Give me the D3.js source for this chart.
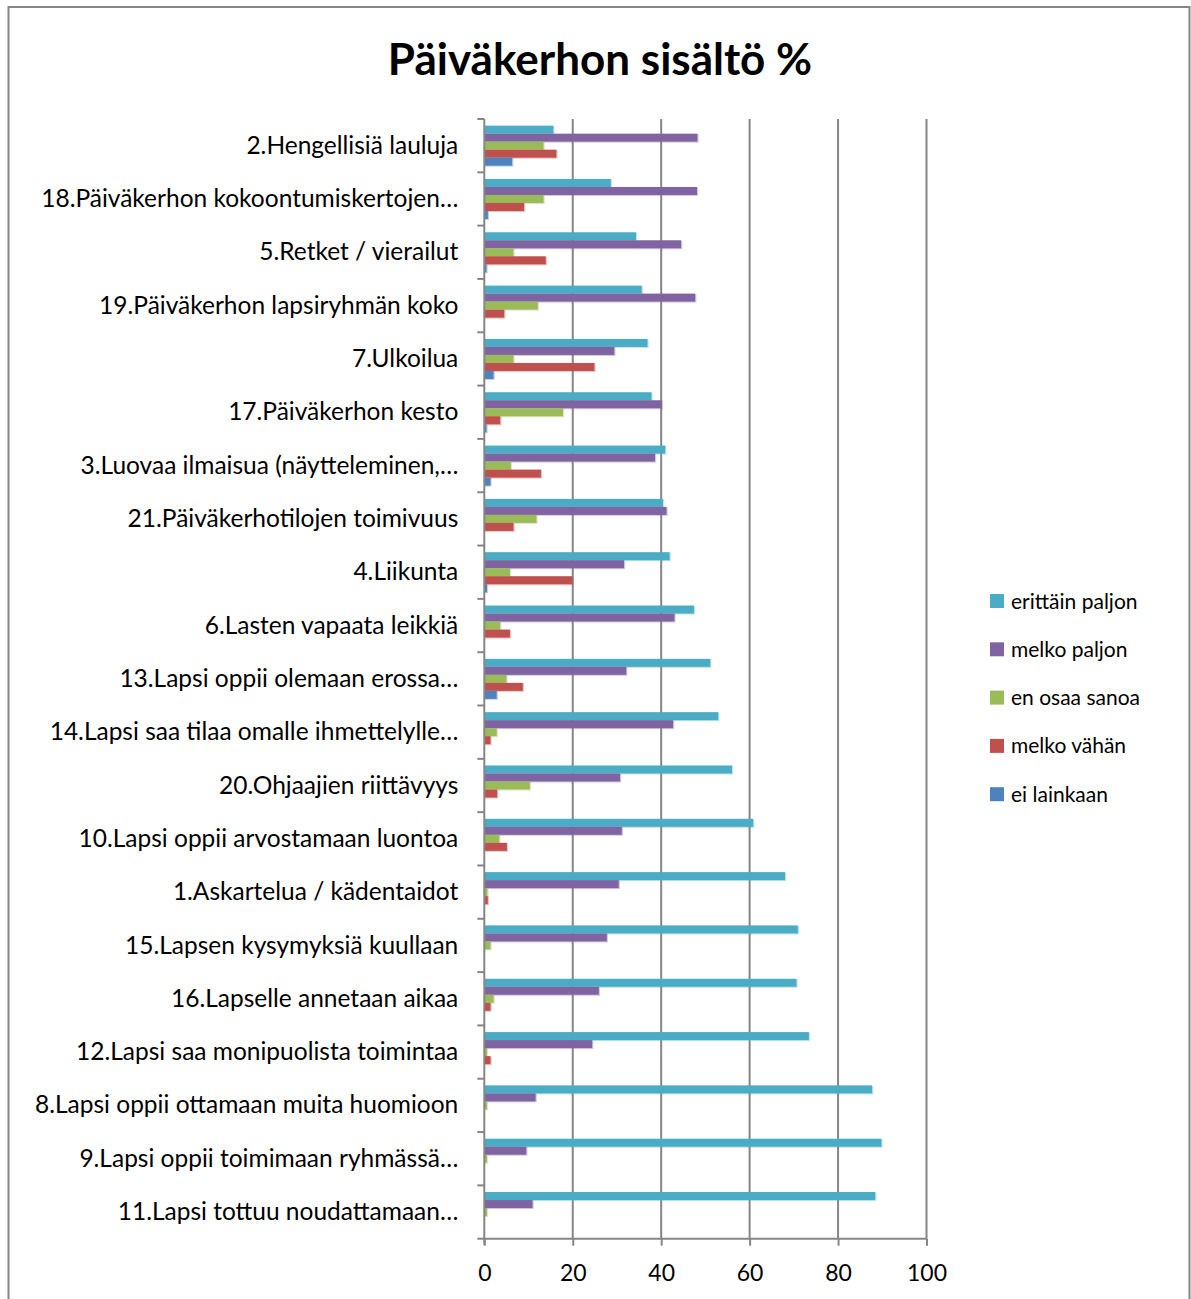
<!DOCTYPE html>
<html><head><meta charset="utf-8">
<script src="https://cdn.jsdelivr.net/npm/d3@7"></script>
<style>body{margin:0;background:#fff}svg{display:block}text{font-family:Lato,"Noto Sans",sans-serif;fill:#000}</style>
</head><body>
<svg id="c" width="1191" height="1299"></svg>
<script>
const categories = ["2.Hengellisiä lauluja","18.Päiväkerhon kokoontumiskertojen…","5.Retket / vierailut","19.Päiväkerhon lapsiryhmän koko","7.Ulkoilua","17.Päiväkerhon kesto","3.Luovaa ilmaisua (näytteleminen,…","21.Päiväkerhotilojen toimivuus","4.Liikunta","6.Lasten vapaata leikkiä","13.Lapsi oppii olemaan erossa…","14.Lapsi saa tilaa omalle ihmettelylle…","20.Ohjaajien riittävyys","10.Lapsi oppii arvostamaan luontoa","1.Askartelua / kädentaidot","15.Lapsen kysymyksiä kuullaan","16.Lapselle annetaan aikaa","12.Lapsi saa monipuolista toimintaa","8.Lapsi oppii ottamaan muita huomioon","9.Lapsi oppii toimimaan ryhmässä…","11.Lapsi tottuu noudattamaan…"];
const seriesNames = ["erittäin paljon","melko paljon","en osaa sanoa","melko vähän","ei lainkaan"];
const erittainPaljon = [15.6,28.6,34.3,35.6,36.9,37.8,40.9,40.4,41.9,47.4,51.1,52.9,56.0,60.8,68.0,70.9,70.6,73.4,87.7,89.8,88.4];
const melkoPaljon   = [48.2,48.1,44.5,47.7,29.4,40.1,38.6,41.2,31.6,43.0,32.1,42.7,30.7,31.1,30.4,27.7,25.9,24.4,11.6,9.5,10.9];
const enOsaaSanoa   = [13.4,13.4,6.6,12.1,6.6,17.8,6.0,11.8,5.8,3.6,5.0,2.8,10.3,3.4,0.7,1.4,2.1,0.6,0.6,0.6,0.6];
const melkoVahan    = [16.3,9.0,13.9,4.5,24.9,3.6,12.8,6.6,19.9,5.8,8.7,1.4,2.9,5.1,0.8,0,1.4,1.4,0,0,0];
const eiLainkaan    = [6.3,0.8,0.5,0,2.1,0.5,1.4,0,0.6,0,2.8,0,0,0,0,0,0,0,0,0,0];
const xTicks = [0,20,40,60,80,100];
const colors = ["#4BACC6","#8064A2","#9BBB59","#C0504D","#4F81BD"];
const seriesValues = [erittainPaljon, melkoPaljon, enOsaaSanoa, melkoVahan, eiLainkaan];

const svg = d3.select("#c");
svg.append("rect").attr("x",8.5).attr("y",7).attr("width",1181).attr("height",1320)
  .attr("fill","#fff").attr("stroke","#868686").attr("stroke-width",2);

svg.append("text").attr("x",600).attr("y",75).attr("text-anchor","middle")
  .style("font-size","44px").style("font-weight","bold").text("Päiväkerhon sisältö %");

const L = 484.3, R = 926.5, T = 119, B = 1238.7;
const x = d3.scaleLinear().domain([0,100]).range([L,R]);
const y = d3.scaleBand().domain(categories).range([T,B]).paddingInner(0).paddingOuter(0);
const ys = d3.scaleBand().domain(seriesNames).range([0,y.bandwidth()]).paddingInner(0).paddingOuter(0.83);

// gridlines
svg.append("g").selectAll("line").data(xTicks.slice(1)).join("line")
  .attr("x1",d=>x(d)).attr("x2",d=>x(d)).attr("y1",T).attr("y2",B)
  .attr("stroke","#868686").attr("stroke-width",2);

// bars
const g = svg.append("g");
seriesNames.forEach((s,si)=>{
  const vals = seriesValues[si];
  g.append("g").selectAll("rect.sh").data(categories).join("rect")
    .attr("x",L).attr("y",d=>y(d)+ys(s)+0.5)
    .attr("width",(d,i)=>vals[i]>0? x(vals[i])-L+1.2:0).attr("height",ys.bandwidth()+0.5)
    .attr("fill",colors[si]).attr("opacity",0.35);
  g.append("g").selectAll("rect.b").data(categories).join("rect")
    .attr("x",L).attr("y",d=>y(d)+ys(s))
    .attr("width",(d,i)=>Math.max(0,x(vals[i])-L)).attr("height",ys.bandwidth())
    .attr("fill",colors[si]);
});

// y axis
const yAxis = d3.axisLeft(y).tickSize(0).tickPadding(26);
const yg = svg.append("g").attr("transform",`translate(${L},0)`).call(yAxis);
yg.select(".domain").remove();
yg.selectAll("text").style("font-size","24.5px").style("font-family","Lato,'Noto Sans',sans-serif").attr("fill","#000").attr("dy","0.33em");
svg.append("line").attr("x1",L).attr("x2",L).attr("y1",T).attr("y2",B+6).attr("stroke","#868686").attr("stroke-width",2);
svg.append("g").selectAll("line").data(d3.range(categories.length+1)).join("line")
  .attr("x1",L-7).attr("x2",L).attr("y1",i=>T+i*y.step()).attr("y2",i=>T+i*y.step())
  .attr("stroke","#868686").attr("stroke-width",2);

// x axis
const xAxis = d3.axisBottom(x).tickValues(xTicks).tickSize(7).tickPadding(19).tickFormat(d3.format("d"));
const xg = svg.append("g").attr("transform",`translate(0,${B})`).call(xAxis);
xg.select(".domain").attr("stroke","#868686").attr("stroke-width",2).attr("d",`M${L},0H${R}`);
xg.selectAll(".tick line").attr("stroke","#868686").attr("stroke-width",2);
xg.selectAll("text").style("font-size","23px").style("font-family","Lato,'Noto Sans',sans-serif").attr("fill","#000");

// legend
const lg = svg.append("g");
seriesNames.forEach((s,i)=>{
  const cy = 601 + i*48.3;
  lg.append("rect").attr("x",990).attr("y",cy-7).attr("width",14).attr("height",14).attr("fill",colors[i]);
  lg.append("text").attr("x",1011).attr("y",cy).attr("dy","0.36em").style("font-size","21px").text(s);
});
</script>
</body></html>
